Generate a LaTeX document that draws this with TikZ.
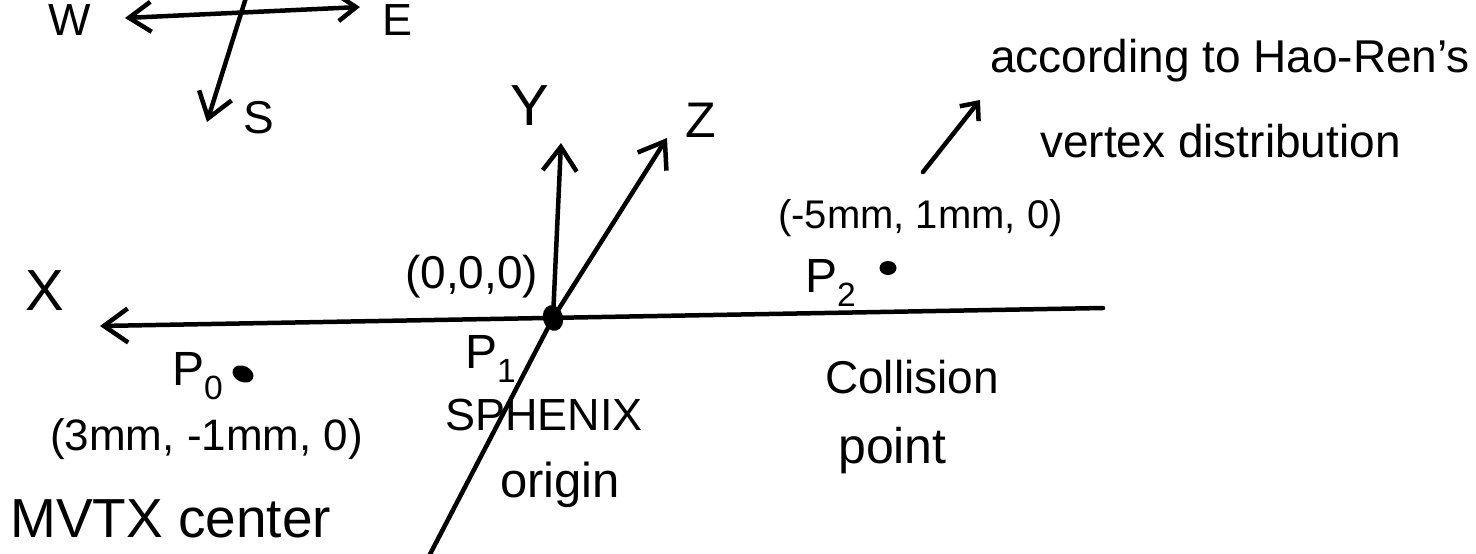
\documentclass[tikz,border=0pt]{standalone}
\usepackage{fontspec}
\setmainfont{Liberation Sans}
\usetikzlibrary{arrows.meta,shapes.geometric}
\begin{document}
\begin{tikzpicture}[x=1pt,y=-1pt,
  ln/.style={line width=4.5pt, line cap=round, line join=round},
  arr/.style={ln, -{Straight Barb[length=24pt,width=34pt]}},
  darr/.style={ln, {Straight Barb[length=22pt,width=30pt]}-{Straight Barb[length=18pt,width=26pt]}},
  sarr/.style={ln, -{Straight Barb[length=14pt,width=24pt]}},
  lbl/.style={anchor=base west, inner sep=0pt, font=\fontsize{#1pt}{#1pt}\selectfont},
  lbl/.default=46,
  dot/.style={ellipse, fill=black, inner sep=0pt}]
\clip (0,0) rectangle (1476,554);
\fill[white] (0,0) rectangle (1476,554);
% compass
\coordinate (wtip) at (125,18);
\coordinate (etip) at (360,7);
\coordinate (ntop) at (249,-12);
\coordinate (stip) at (207,122);
\draw[darr] (wtip) -- (etip);
\draw[arr] (ntop) -- (stip);
\node[lbl=45] (W) at (48,35) {W};
\node[lbl=45] (E) at (382,35) {E};
\node[lbl=46] (S) at (243,133) {S};
% axes
\node[dot, minimum width=20pt, minimum height=26pt, rotate=15] (P1) at (553,318) {};
\coordinate (xright) at (1103,308);
\coordinate (xtip) at (100,326);
\coordinate (ytip) at (561,143);
\coordinate (zbot) at (427,560);
\coordinate (ztip) at (667,138);
\draw[arr] (xright) -- (xtip);
\draw[arr] (P1.center) -- (ytip);
\draw[arr] (zbot) -- (P1.center) -- (ztip);
\node[lbl=58] (X) at (25,310) {X};
\node[lbl=58] (Y) at (510,125) {Y};
\node[lbl=50] (Z) at (685,137) {Z};
% points
\node[dot, minimum width=22pt, minimum height=16pt, rotate=-25] (P0) at (243,374) {};
\node[dot, minimum width=17pt, minimum height=14pt] (P2) at (888,268) {};
\node[lbl=48] (P0l) at (172,385) {P\textsubscript{0}};
\node[lbl=48] (P1l) at (465,368) {P\textsubscript{1}};
\node[lbl=48] (P2l) at (805,292) {P\textsubscript{2}};
% labels
\node[lbl=46] (o) at (405,288) {(0,0,0)};
\node[lbl=44] (c0) at (50,450) {(3mm, -1mm, 0)};
\node[lbl=55] (mvtx) at (10,537) {MVTX center};
\node[lbl=45] (sph) at (445,430) {SPHENIX};
\node[lbl=49] (orig) at (500,497) {origin};
\node[lbl=40] (c2) at (778,228) {(-5mm, 1mm, 0)};
\node[lbl=46] (coll) at (825,393) {Collision};
\node[lbl=50] (pt) at (838,463) {point};
\node[lbl=46] (acc) at (990,72) {according to Hao-Ren's};
\node[lbl=46] (vtx) at (1040,157) {vertex distribution};
\coordinate (nstart) at (923,172);
\coordinate (ntip) at (980,100);
\draw[sarr] (nstart) -- (ntip);
\end{tikzpicture}
\end{document}
